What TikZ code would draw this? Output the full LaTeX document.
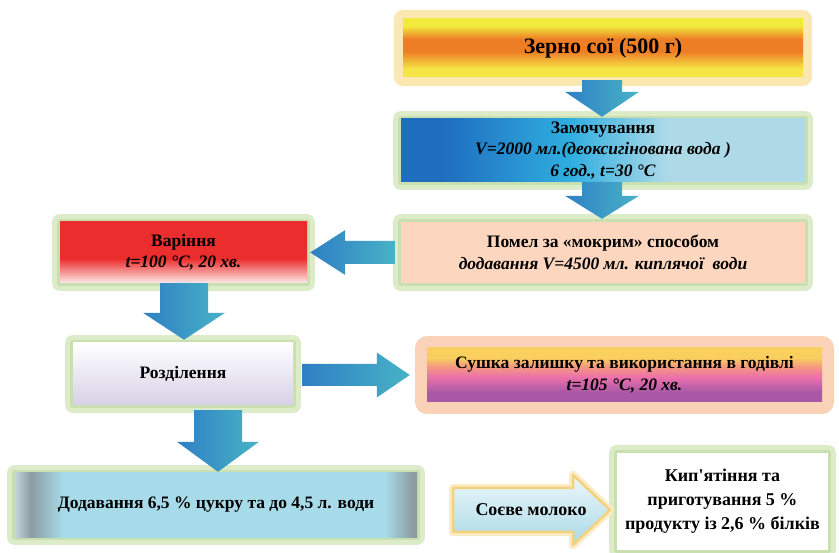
\documentclass[tikz,border=0pt]{standalone}
\usepackage{fontspec}
\setmainfont{Liberation Serif}
\usetikzlibrary{calc}

\definecolor{glowG}{HTML}{DCEBC8}
\definecolor{glowGd}{HTML}{CADFB0}
\definecolor{glowY}{HTML}{FBE7B0}
\definecolor{glowP}{HTML}{F9D2B8}
\definecolor{arrA}{HTML}{2F80C4}
\definecolor{arrB}{HTML}{48B2C6}
\definecolor{pomelC}{HTML}{FCD6BF}
\definecolor{soeveTop}{HTML}{EEF8FB}
\definecolor{soeveBot}{HTML}{A9D8E6}
\definecolor{soeveBrd}{HTML}{F2D27C}
\definecolor{soeveGlow}{HTML}{FBEBC4}
\definecolor{zY}{HTML}{F2EA3C}
\definecolor{zY2}{HTML}{F6E645}
\definecolor{zO}{HTML}{EE7E26}
\definecolor{bD}{HTML}{1F6DBF}
\definecolor{bM}{HTML}{2FAEE0}
\definecolor{bP}{HTML}{AEDAE8}
\definecolor{rR}{HTML}{EC2D2D}
\definecolor{rW}{HTML}{FBEAE8}
\definecolor{lav}{HTML}{D6D1E6}
\definecolor{sY}{HTML}{F9CF5E}
\definecolor{sO}{HTML}{F49A7E}
\definecolor{sP}{HTML}{EC70AC}
\definecolor{sV}{HTML}{A958A7}
\definecolor{dB}{HTML}{A8DBE9}
\definecolor{dG}{HTML}{8C9CA2}
\definecolor{dL}{HTML}{C4D6DA}

\pgfdeclareverticalshading{zernoshade}{100bp}{color(0bp)=(zY2); color(32bp)=(zY2); color(47bp)=(zO); color(58bp)=(zO); color(69bp)=(zY); color(100bp)=(zY)}
\pgfdeclarehorizontalshading{zamochshade}{100bp}{color(0bp)=(bD); color(30bp)=(bD); color(46bp)=(bM); color(58bp)=(bP); color(100bp)=(bP)}
\pgfdeclareverticalshading{redfade}{100bp}{color(0bp)=(rW); color(25bp)=(rW); color(45bp)=(rR); color(100bp)=(rR)}
\pgfdeclareverticalshading{rozdilshade}{100bp}{color(0bp)=(lav); color(25bp)=(lav); color(75bp)=(white); color(100bp)=(white)}
\pgfdeclareverticalshading{sushkashade}{100bp}{color(0bp)=(sV); color(34bp)=(sV); color(48bp)=(sP); color(58bp)=(sO); color(66bp)=(sY); color(100bp)=(sY)}
\pgfdeclarehorizontalshading{dodavshade}{100bp}{color(0bp)=(dL); color(25bp)=(dL); color(27bp)=(dG); color(31bp)=(dB); color(71bp)=(dB); color(74.5bp)=(dG); color(100bp)=(dG)}

\tikzset{
  stage/.style={rectangle, align=center, inner sep=2pt, text=black,
    font=\bfseries\fontsize{17.5}{21.5}\selectfont},
  greenglow/.style={preaction={draw=glowG, line width=16pt, line join=round},
    preaction={draw=glowGd, line width=6pt, line join=round}},
  yellowglow/.style={preaction={draw=glowY, line width=18pt, line join=round}},
  peachglow/.style={preaction={draw=glowP, line width=24pt, line join=round}},
  bluearrow/.style={left color=arrA, right color=arrB},
}

\newcommand\fatdown[5]{%
  \path[bluearrow] let \p1=#1, \p2=#2 in
    (\x2-#3pt,\y1) -- (\x2+#3pt,\y1) -- (\x2+#3pt,\y2+#5pt) -- (\x2+#4pt,\y2+#5pt)
    -- (\x2,\y2) -- (\x2-#4pt,\y2+#5pt) -- (\x2-#3pt,\y2+#5pt) -- cycle;}
\newcommand\fatleft[5]{%
  \path[bluearrow] let \p1=#1, \p2=#2 in
    (\x1,\y2+#3pt) -- (\x2+#5pt,\y2+#3pt) -- (\x2+#5pt,\y2+#4pt) -- (\x2,\y2)
    -- (\x2+#5pt,\y2-#4pt) -- (\x2+#5pt,\y2-#3pt) -- (\x1,\y2-#3pt) -- cycle;}
\newcommand\fatright[5]{%
  \path[bluearrow] let \p1=#1, \p2=#2 in
    (\x1,\y2+#3pt) -- (\x2-#5pt,\y2+#3pt) -- (\x2-#5pt,\y2+#4pt) -- (\x2,\y2)
    -- (\x2-#5pt,\y2-#4pt) -- (\x2-#5pt,\y2-#3pt) -- (\x1,\y2-#3pt) -- cycle;}

\begin{document}
\begin{tikzpicture}[x=1pt,y=-1pt]
\useasboundingbox[fill=white] (0,0) rectangle (839,553);

% boxes
\node[stage, yellowglow, shading=zernoshade, minimum width=400pt, minimum height=58pt,
  font=\bfseries\fontsize{22}{26}\selectfont] (zerno) at (603,48) {Зерно сої (500 г)};
\node[stage, greenglow, shading=zamochshade, minimum width=404pt, minimum height=63pt] (zamoch) at (603,150.5)
  {Замочування\\ \textit{V=2000 мл.(деоксигінована вода )}\\ \textit{6 год., t=30 °C}};
\node[stage, greenglow, fill=pomelC, minimum width=404pt, minimum height=61pt] (pomel) at (603,252.5)
  {Помел за «мокрим» способом\\ \textit{додавання V=4500 мл. киплячої\ \ води}};
\node[stage, greenglow, shading=redfade, minimum width=247pt, minimum height=61pt] (varin) at (183.5,252.5)
  {Варіння\\ \textit{t=100 °C, 20 хв.}};
\node[stage, greenglow, shading=rozdilshade, minimum width=220pt, minimum height=62pt] (rozdil) at (183,374)
  {Розділення};
\node[stage, peachglow, shading=sushkashade, minimum width=395pt, minimum height=54pt] (sushka) at (624.5,375)
  {Сушка залишку та використання в годівлі\\ \textit{t=105 °C, 20 хв.}};
\node[stage, greenglow, shading=dodavshade, minimum width=402pt, minimum height=64pt] (dodav) at (216,505)
  {Додавання 6,5 \% цукру та до 4,5 л. води};
\node[stage, greenglow, fill=white, minimum width=211pt, minimum height=97pt,
  font=\bfseries\fontsize{18}{24}\selectfont] (kip) at (722.5,501.5)
  {Кип\textquotesingle ятіння та\\ приготування 5 \%\\ продукту із 2,6 \% білків};

% soy milk arrow
\path[preaction={draw=soeveGlow, line width=8pt, line join=round},
  top color=soeveTop, bottom color=soeveBot, draw=soeveBrd, line width=2.5pt, line join=round]
  (453,488) -- (573,488) -- (573,475) -- (610,510) -- (573,545) -- (573,532) -- (453,532) -- cycle;
\node[stage, font=\bfseries\fontsize{18}{22}\selectfont] (soeve) at (531,510) {Соєве молоко};

% connectors
\fatdown{($(zerno.south)+(0,3)$)}{($(zamoch.north)+(-1,-2)$)}{20}{37}{25}
\fatdown{($(zamoch.south)+(0,0)$)}{($(pomel.north)+(-1,-3)$)}{20}{37}{23}
\fatleft{($(pomel.west)+(-6,0)$)}{($(varin.east)+(3,0)$)}{11.5}{22.5}{35}
\fatdown{($(varin.south)+(0,0)$)}{($(rozdil.north)+(1,-3)$)}{24}{41}{27}
\fatright{($(rozdil.east)+(9,0)$)}{($(sushka.west)+(-17,0)$)}{11}{22.5}{33}
\fatdown{($(rozdil.south)+(0,5)$)}{($(dodav.north)+(2,-1)$)}{24}{41}{30}
\end{tikzpicture}
\end{document}
